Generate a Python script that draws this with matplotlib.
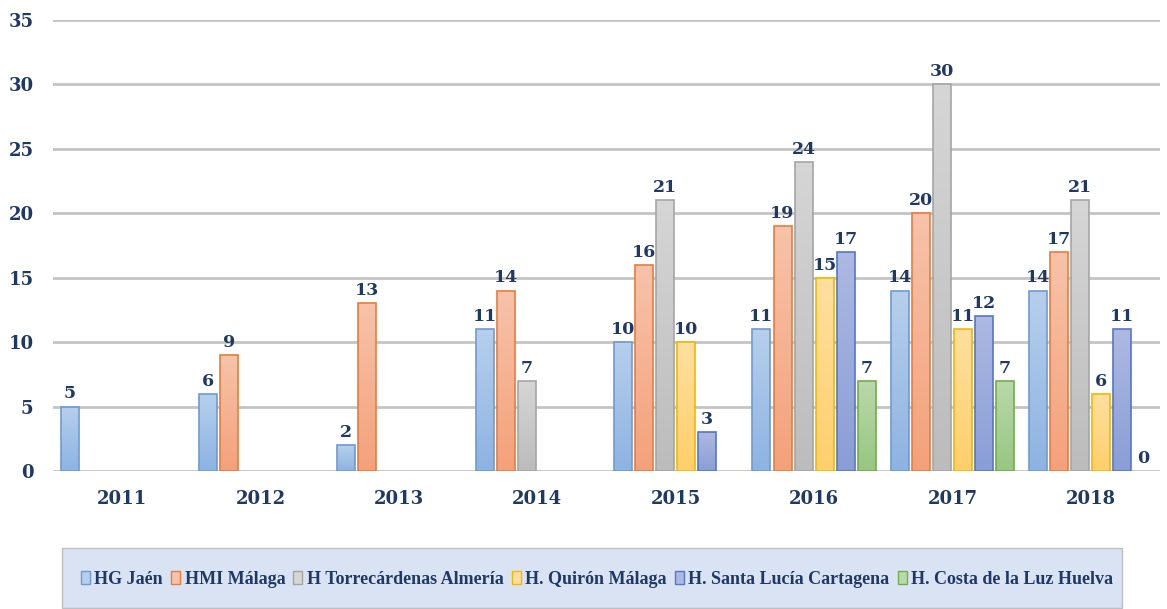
import numpy as np
import matplotlib
matplotlib.use("Agg")
import matplotlib.pyplot as plt
from matplotlib.patches import Rectangle, Patch
from matplotlib.colors import LinearSegmentedColormap

years = ["2011", "2012", "2013", "2014", "2015", "2016", "2017", "2018"]
series_names = ["HG Jaén", "HMI Málaga", "H Torrecárdenas Almería",
                "H. Quirón Málaga", "H. Santa Lucía Cartagena",
                "H. Costa de la Luz Huelva"]
hg_jaen = [5, 6, 2, 11, 10, 11, 14, 14]
hmi_malaga = [None, 9, 13, 14, 16, 19, 20, 17]
torrecardenas = [None, None, None, 7, 21, 24, 30, 21]
quiron = [None, None, None, None, 10, 15, 11, 6]
santa_lucia = [None, None, None, None, 3, 17, 12, 11]
costa_luz = [None, None, None, None, None, 7, 7, 0]
all_series = [hg_jaen, hmi_malaga, torrecardenas, quiron, santa_lucia, costa_luz]

# (top, bottom, edge) colours
palette = [
    ("#b7cfec", "#8db3e2", "#6d9bd3"),
    ("#f7c3aa", "#f4a17a", "#e97c3e"),
    ("#d6d6d6", "#bcbcbc", "#a5a5a5"),
    ("#ffdfa0", "#ffcf6c", "#f2b800"),
    ("#adb9e2", "#8a9dd6", "#5577c6"),
    ("#b9d9ab", "#98c682", "#72ad4c"),
]
navy = "#1f3864"
FONT = "DejaVu Serif"
LFONT = "Liberation Serif"

fig = plt.figure(figsize=(11.67, 6.09), dpi=100)
ax = fig.add_axes([53/1167, 138/609, (1160-53)/1167, 451/609])

x = np.arange(len(years))
slot = 0.152
width = 0.13
grad = np.linspace(0, 1, 256).reshape(-1, 1)

handles = []
for i, (vals, name, (ctop, cbot, cedge)) in enumerate(zip(all_series, series_names, palette)):
    offs = (i - 2.5) * slot
    xs = [xx + offs for xx, v in zip(x, vals) if v is not None]
    hs = [v for v in vals if v is not None]
    bars = ax.bar(xs, hs, width=width, color="none", edgecolor="none", zorder=3)
    cmap = LinearSegmentedColormap.from_list("g%d" % i, [cbot, ctop])
    for b, h in zip(bars, hs):
        if h > 0:
            bx, by = b.get_x(), b.get_y()
            im = ax.imshow(grad, cmap=cmap, origin="lower", aspect="auto",
                           extent=[bx, bx + b.get_width(), by, by + h], zorder=3.1)
            im.set_clip_path(b)
            ax.add_patch(Rectangle((bx, by), b.get_width(), h, fill=False,
                                   edgecolor=cedge, linewidth=1.2, zorder=3.2))
        ax.annotate(str(h), (b.get_x() + b.get_width()/2, h), xytext=(0, 3),
                    textcoords="offset points", ha="center", va="bottom",
                    fontsize=12.5, fontweight="bold", color=navy, family=FONT, zorder=5)
    handles.append(Patch(facecolor=ctop, edgecolor=cedge, linewidth=1, label=name))

ax.set_xlim(-0.5, len(years) - 0.5)
ax.set_ylim(0, 35)
ax.set_yticks(range(0, 36, 5))
ax.set_xticks(x)
ax.set_xticklabels(years)
ax.yaxis.grid(True, color="#c4c4c4", linewidth=2, zorder=0)
ax.set_axisbelow(True)
for s in ax.spines.values():
    s.set_visible(False)
ax.tick_params(axis="both", length=0, labelsize=13, labelcolor=navy)
ax.tick_params(axis="y", pad=14)
ax.tick_params(axis="x", pad=14)
for t in ax.get_xticklabels() + ax.get_yticklabels():
    t.set_fontweight("bold")
    t.set_family(FONT)

# legend box
fig.patches.append(Rectangle((62/1167, 1/609), 1060/1167, 60/609, transform=fig.transFigure,
                             facecolor="#dae3f3", edgecolor="#bfbfbf", linewidth=1, zorder=0))
leg = fig.legend(handles=handles, loc="center", bbox_to_anchor=(597/1167, 30/609), ncol=6,
                 frameon=False, handlelength=0.5, handleheight=0.75, handletextpad=0.25,
                 columnspacing=0.45, prop={"family": LFONT, "weight": "bold", "size": 13})
for t in leg.get_texts():
    t.set_color(navy)

fig.savefig("out.png", dpi=100)
